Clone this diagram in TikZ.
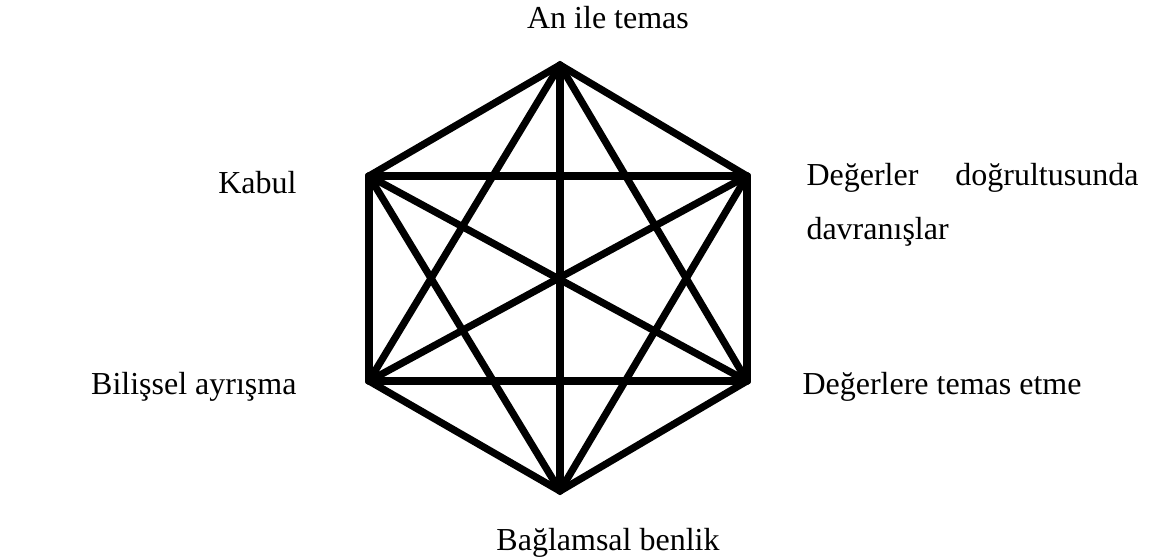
\documentclass[tikz,border=0pt]{standalone}
\usepackage{fontspec}
\setmainfont{Liberation Serif}
\usetikzlibrary{positioning}

\begin{document}
\begin{tikzpicture}[
  x=0.375pt, y=-0.375pt,
  flex/.style={line width=2.7pt, line join=miter, black},
  link/.style={line width=2.7pt, line cap=round, black},
  lbl/.style={inner sep=0pt, font=\fontsize{12}{20.6}\selectfont}
]
  \useasboundingbox (0,0) rectangle (1150,558);
  % hexagon corners
  \coordinate (top)  at (560,65);
  \coordinate (ur)   at (747,176);
  \coordinate (lr)   at (747,381);
  \coordinate (bot)  at (560,491);
  \coordinate (ll)   at (369,381);
  \coordinate (ul)   at (369,176);

  % every corner joined to every other
  \foreach \a/\b in {top/lr, top/ll, top/bot, ur/ul, ur/ll, ur/bot,
                     lr/ul, lr/ll, bot/ul, ul/ll, ur/lr}
    \draw[link] (\a) -- (\b);
  \draw[flex] (top) -- (ur) -- (lr) -- (bot) -- (ll) -- (ul) -- cycle;

  \node[lbl, anchor=base] (moment) at (608,28) {An ile temas};
  \node[lbl, anchor=base east] (accept) at (297,193) {Kabul};
  \node[lbl, anchor=base west, text width=124.5pt, align=left] (values) at (806,185)
    {Değerler\hfill doğrultusunda\\davranışlar};
  \node[lbl, anchor=base east] (defusion) at (297,394) {Bilişsel ayrışma};
  \node[lbl, anchor=base west] (contact) at (802,394) {Değerlere temas etme};
  \node[lbl, anchor=base] (self) at (608,550) {Bağlamsal benlik};
\end{tikzpicture}
\end{document}
